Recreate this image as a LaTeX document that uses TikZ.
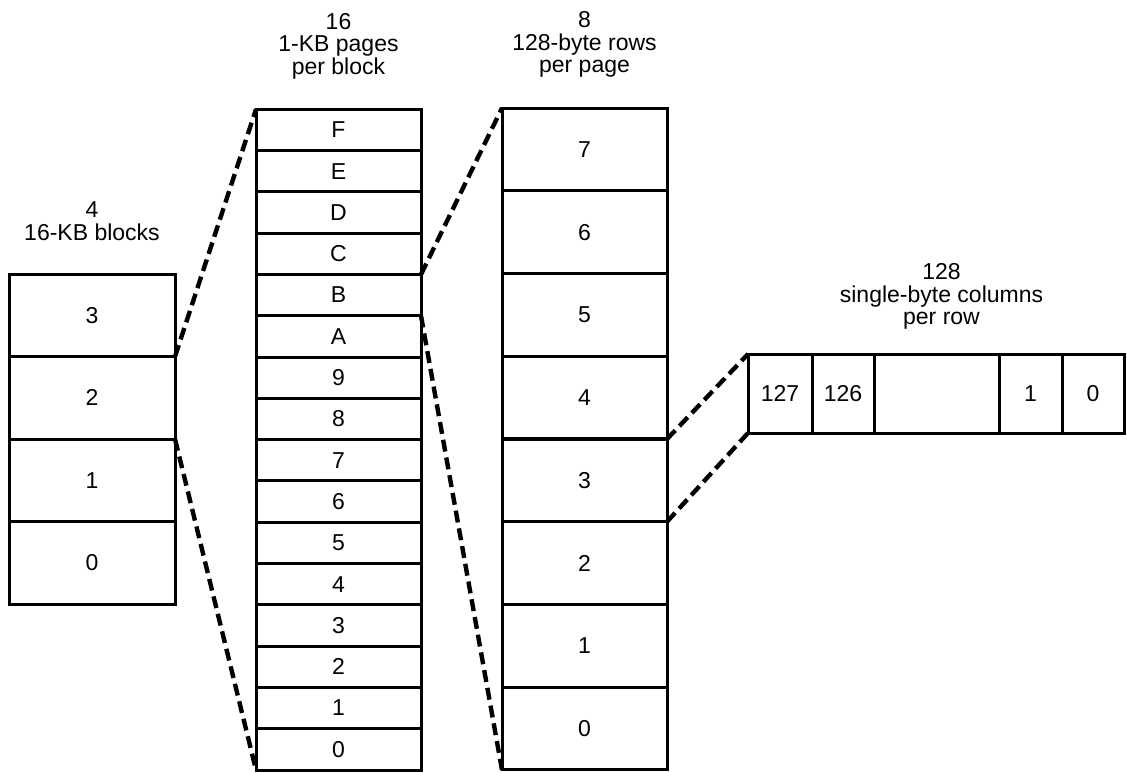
\documentclass[tikz,border=0pt]{standalone}
\usepackage{fontspec}
\setmainfont{Liberation Sans}
\usetikzlibrary{positioning}
\tikzset{
  cell/.style={rectangle, draw=black, line width=1.5pt, outer sep=0pt, inner sep=0pt,
    font=\fontsize{11.5}{11.25}\selectfont},
  blk/.style={cell, minimum width=83pt, minimum height=41.25pt},
  pg/.style={cell, minimum width=82.5pt, minimum height=20.65pt},
  rw/.style={cell, minimum width=82.5pt, minimum height=41.35pt},
  colw/.style={cell, minimum height=39.5pt, minimum width=#1},
  ttl/.style={align=center, inner sep=0pt, font=\fontsize{11.5}{11.25}\selectfont},
  zoomln/.style={line width=2.2pt, dash pattern=on 6pt off 3pt},
}

\begin{document}
\begin{tikzpicture}[x=0.5pt, y=-0.5pt]
  \useasboundingbox (0,0) rectangle (1127,772);
  % 4 blocks, 16 pages, 8 rows (bottom up)
  \foreach \l in {0,...,3} \node[blk] (blk\l) at (92, {604-(\l+0.5)*82.5}) {\l};
  \foreach \l [count=\i from 0] in {0,1,2,3,4,5,6,7,8,9,A,B,C,D,E,F}
    \node[pg] (pg\l) at (338.5, {770-(\i+0.5)*41.3}) {\l};
  \foreach \l in {0,...,7} \node[rw] (rw\l) at (584.5, {770-(\l+0.5)*82.75}) {\l};
  % one row: 128 columns, middle ones left out
  \node[colw=32pt] (c127) at (780, 393.5) {127};
  \node[colw=31pt, right=0pt of c127] (c126) {126};
  \node[colw=62.5pt, right=0pt of c126] (cgap) {};
  \node[colw=31.5pt, right=0pt of cgap] (c1) {1};
  \node[colw=31pt, right=0pt of c1] (c0) {0};
  % captions
  \node[ttl, above=16.5pt of blk3] (blkttl) {4\\16-KB blocks};
  \node[ttl, above=15pt of pgF] (pgttl) {16\\1-KB pages\\per block};
  \node[ttl, above=15pt of rw7] (rwttl) {8\\128-byte rows\\per page};
  \node[ttl, above=12pt of cgap, xshift=2.5pt] (colttl) {128\\single-byte columns\\per row};
  % zoom lines: block 2 -> pages, page B -> rows, row 3 -> columns
  \draw[zoomln] (blk2.north east) -- (pgF.north west);
  \draw[zoomln] (blk2.south east) -- (pg0.south west);
  \draw[zoomln] (pgB.north east) -- (rw7.north west);
  \draw[zoomln] (pgB.south east) -- (rw0.south west);
  \draw[zoomln] (rw3.north east) -- (c127.north west);
  \draw[zoomln] (rw3.south east) -- (c127.south west);
\end{tikzpicture}
\end{document}
